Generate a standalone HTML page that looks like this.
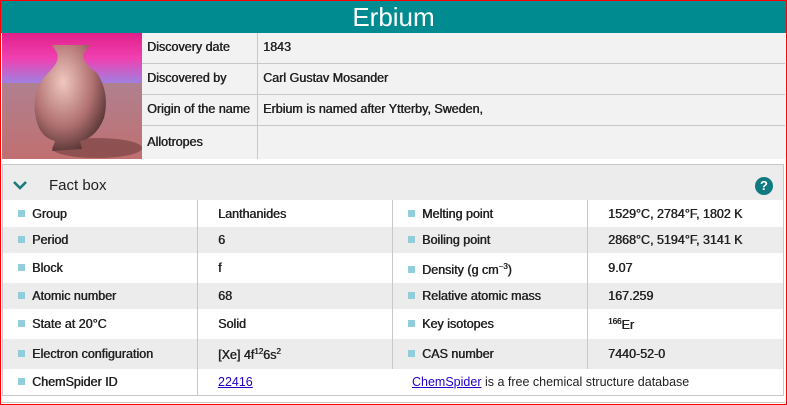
<!DOCTYPE html>
<html><head><meta charset="utf-8"><style>
*{margin:0;padding:0;box-sizing:border-box}
body{width:787px;height:405px;position:relative;overflow:hidden;background:#fff;font-family:"Liberation Sans",sans-serif;color:#222}
.a{position:absolute}
.t{font-size:12.5px;text-shadow:0.5px 0 0 #222;white-space:nowrap}
.b{position:absolute;width:7px;height:7px;background:#92cddc}
sup{font-size:8px;vertical-align:5px}
a{color:#2200cc}
</style></head><body>
<div class="a" style="left:0;top:0;width:787px;height:405px;border:1px solid #f00"></div>
<div class="a" style="left:1px;top:1px;width:785px;height:32px;background:#008b91;color:#fff;font-size:26px;text-align:center;line-height:32px">Erbium</div>
<svg class="a" style="left:2px;top:33px" width="140" height="126">
<defs><linearGradient id="s" x1="0" y1="0" x2="0" y2="1"><stop offset="0" stop-color="#e0208a"/><stop offset="0.5" stop-color="#f040b0"/><stop offset="1" stop-color="#a080e0"/></linearGradient>
<linearGradient id="g" x1="0" y1="0" x2="0" y2="1"><stop offset="0" stop-color="#b08090"/><stop offset="1" stop-color="#c07070"/></linearGradient>
<radialGradient id="v" cx="0.4" cy="0.35" r="0.7"><stop offset="0" stop-color="#f0c8c0"/><stop offset="0.6" stop-color="#b07070"/><stop offset="1" stop-color="#503030"/></radialGradient></defs>
<rect width="140" height="50" fill="url(#s)"/><rect y="50" width="140" height="76" fill="url(#g)"/>
<ellipse cx="95" cy="115" rx="45" ry="10" fill="#603030" opacity="0.5"/>
<path d="M50 12 L88 12 L82 20 Q78 28 95 40 Q108 60 102 85 Q94 105 78 108 L80 116 L50 118 L53 108 Q36 104 33 80 Q30 55 48 38 Q58 28 55 20 Z" fill="url(#v)"/>
</svg>
<div class="a" style="left:142px;top:33px;width:643px;height:126px;background:#f2f2f2"></div>
<div class="a" style="left:257px;top:33px;width:1px;height:126px;background:#c8c8c8"></div>
<div class="a" style="left:142px;top:63px;width:643px;height:1px;background:#c8c8c8"></div>
<div class="a" style="left:142px;top:94px;width:643px;height:1px;background:#c8c8c8"></div>
<div class="a" style="left:142px;top:125px;width:643px;height:1px;background:#c8c8c8"></div>
<div class="a t" style="left:147px;top:40px">Discovery date</div>
<div class="a t" style="left:263px;top:40px">1843</div>
<div class="a t" style="left:147px;top:71px">Discovered by</div>
<div class="a t" style="left:263px;top:71px">Carl Gustav Mosander</div>
<div class="a t" style="left:147px;top:102px">Origin of the name</div>
<div class="a t" style="left:263px;top:102px">Erbium is named after Ytterby, Sweden,</div>
<div class="a t" style="left:147px;top:135px">Allotropes</div>

<div class="a" style="left:2px;top:164px;width:782px;height:232px;border:1px solid #c8c8c8;background:#fff"></div>
<div class="a" style="left:3px;top:165px;width:780px;height:35px;background:#ececec"></div>
<svg class="a" style="left:13px;top:181px" width="14" height="9"><path d="M1 1 L7 7 L13 1" stroke="#1a7a80" stroke-width="2.6" fill="none"/></svg>
<div class="a" style="left:49px;top:177px;font-size:15px;color:#222">Fact box</div>
<div class="a" style="left:755px;top:177px;width:18px;height:18px;border-radius:50%;background:#0f7a80;color:#fff;font-weight:bold;font-size:13px;text-align:center;line-height:18px">?</div>
<div class="a" style="left:3px;top:227px;width:780px;height:26px;background:#ececec"></div>
<div class="a" style="left:3px;top:283px;width:780px;height:26px;background:#ececec"></div>
<div class="a" style="left:3px;top:339px;width:780px;height:30px;background:#ececec"></div>
<div class="a" style="left:197px;top:200px;width:1px;height:195px;background:#c8c8c8"></div>
<div class="a" style="left:392px;top:200px;width:1px;height:169px;background:#c8c8c8"></div>
<div class="a" style="left:587px;top:200px;width:1px;height:169px;background:#c8c8c8"></div>
<div class="a" style="left:2px;top:402px;width:783px;height:1px;background:#c8c8c8"></div>

<div class="b" style="left:18px;top:210px"></div><div class="a t" style="left:32px;top:207px">Group</div><div class="a t" style="left:218px;top:207px">Lanthanides</div>
<div class="b" style="left:18px;top:236px"></div><div class="a t" style="left:32px;top:233px">Period</div><div class="a t" style="left:218px;top:233px">6</div>
<div class="b" style="left:18px;top:264px"></div><div class="a t" style="left:32px;top:261px">Block</div><div class="a t" style="left:218px;top:261px">f</div>
<div class="b" style="left:18px;top:292px"></div><div class="a t" style="left:32px;top:289px">Atomic number</div><div class="a t" style="left:218px;top:289px">68</div>
<div class="b" style="left:18px;top:320px"></div><div class="a t" style="left:32px;top:317px">State at 20°C</div><div class="a t" style="left:218px;top:317px">Solid</div>
<div class="b" style="left:18px;top:350px"></div><div class="a t" style="left:32px;top:347px">Electron configuration</div><div class="a t" style="left:218px;top:347px">[Xe] 4f<sup>12</sup>6s<sup>2</sup></div>
<div class="b" style="left:18px;top:378px"></div><div class="a t" style="left:32px;top:375px">ChemSpider ID</div><div class="a" style="left:218px;top:375px;font-size:12.5px"><a href="#">22416</a></div>
<div class="a" style="left:412px;top:375px;font-size:12.5px;white-space:nowrap"><a href="#">ChemSpider</a> is a free chemical structure database</div>

<div class="b" style="left:408px;top:210px"></div><div class="a t" style="left:422px;top:207px">Melting point</div><div class="a t" style="left:608px;top:207px">1529°C, 2784°F, 1802 K</div>
<div class="b" style="left:408px;top:236px"></div><div class="a t" style="left:422px;top:233px">Boiling point</div><div class="a t" style="left:608px;top:233px">2868°C, 5194°F, 3141 K</div>
<div class="b" style="left:408px;top:266px"></div><div class="a t" style="left:422px;top:262px">Density (g cm<sup>−3</sup>)</div><div class="a t" style="left:608px;top:261px">9.07</div>
<div class="b" style="left:408px;top:292px"></div><div class="a t" style="left:422px;top:289px">Relative atomic mass</div><div class="a t" style="left:608px;top:289px">167.259</div>
<div class="b" style="left:408px;top:320px"></div><div class="a t" style="left:422px;top:317px">Key isotopes</div><div class="a t" style="left:608px;top:317px"><sup>166</sup>Er</div>
<div class="b" style="left:408px;top:350px"></div><div class="a t" style="left:422px;top:347px">CAS number</div><div class="a t" style="left:608px;top:347px">7440-52-0</div>
</body></html>
